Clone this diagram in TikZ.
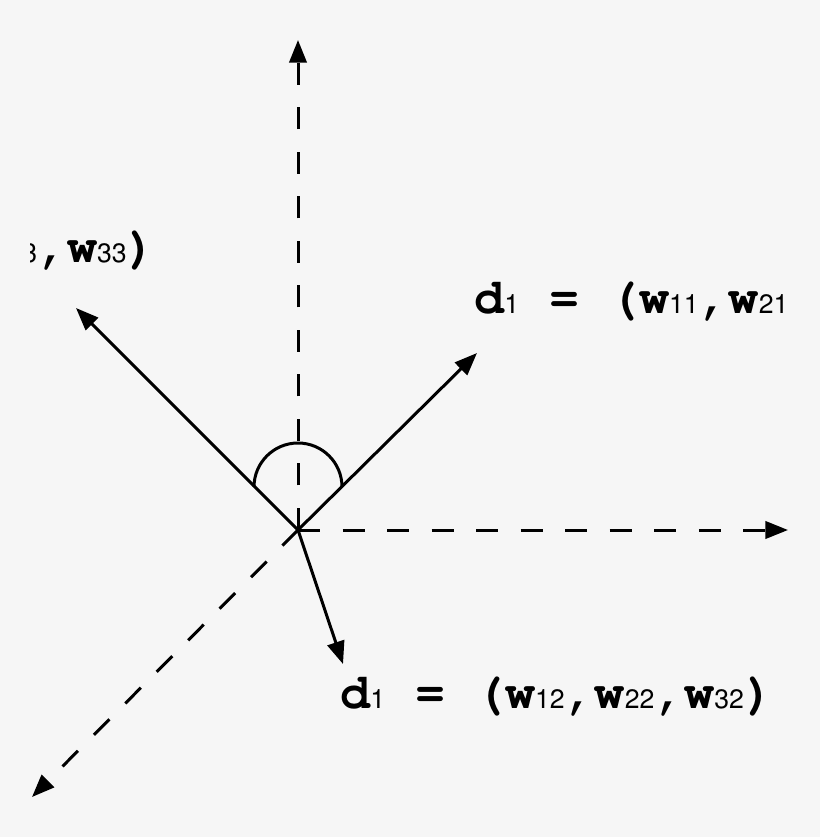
\documentclass[tikz,border=0pt]{standalone}
\usepackage[T1]{fontenc}
\usetikzlibrary{arrows.meta}
\newcommand{\wsub}[1]{{\fontfamily{phv}\mdseries\fontsize{20}{21}\selectfont #1}}
\definecolor{bggray}{RGB}{246,246,246}
\begin{document}
\begin{tikzpicture}[x=0.75pt,y=0.75pt,yscale=-1,xscale=1,
  axis/.style={line width=2.25pt,dash pattern={on 16.5pt off 16.9pt},-{Triangle[length=17pt,width=13pt]}},
  vec/.style={line width=2.25pt,-{Triangle[length=17pt,width=13pt]}},
  lbl/.style={inner sep=0pt,font=\fontfamily{pcr}\bfseries\fontsize{37.5}{40}\selectfont}]
            %Background
            \fill [bggray] (0,0) rectangle (820,837);
            \useasboundingbox (0,0) rectangle (820,837);
            % Points
            \coordinate (O) at (298,530);
            \coordinate (yend) at (298,40);
            \coordinate (xend) at (788,530);
            \coordinate (zend) at (32,797);
            \coordinate (done) at (477,353);
            \coordinate (dthree) at (76,308);
            \coordinate (dtwo) at (343,664);
            %Dashed axes
            \draw [axis] (O) -- (yend);
            \draw [axis] (O) -- (xend);
            \draw [axis] (O) -- (zend);
            %Vectors
            \draw [vec] (O) -- (done);
            \draw [vec] (O) -- (dthree);
            \draw [vec] (O) -- (dtwo);
            %Angle arc
            \draw [line width=2.25pt] (254,487) arc [start angle=180,end angle=360,radius=44];

            % Text Node
            \node (lblone) [lbl,anchor=base west] at (474,314) {d\wsub{1} = (w\wsub{11},w\wsub{21}};
            % Text Node
            \node (lbltwo) [lbl,anchor=base west] at (340,708) {d\wsub{1} = (w\wsub{12},w\wsub{22},w\wsub{32})};
            % Text Node
            \begin{scope}
            \clip (30,0) rectangle (820,837);
            \node (lblthree) [lbl,anchor=base east] at (157,263) {\wsub{3},w\wsub{33})};
            \end{scope}
\end{tikzpicture}
\end{document}
